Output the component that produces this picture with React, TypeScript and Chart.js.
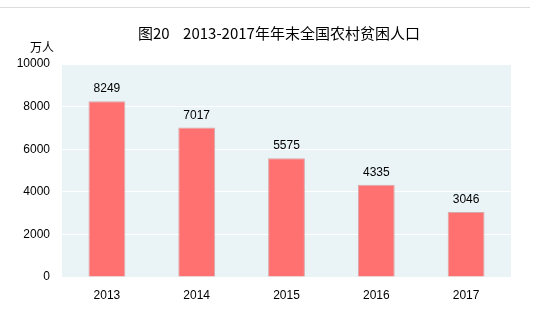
import React, { useEffect, useRef } from "react";
import { Chart, registerables } from "chart.js";

Chart.register(...registerables);

const categories = ["2013", "2014", "2015", "2016", "2017"];
const values = [8249, 7017, 5575, 4335, 3046];
const yTicks = [0, 2000, 4000, 6000, 8000, 10000];
const titleText = "图20    2013-2017年年末全国农村贫困人口";
const unitText = "万人";

const decor = {
  id: "decor",
  beforeDraw(chart: any) {
    const { ctx, chartArea } = chart;
    ctx.save();
    ctx.fillStyle = "#fff";
    ctx.fillRect(0, 0, chart.width, chart.height);
    ctx.fillStyle = "#EAF3F6";
    ctx.fillRect(chartArea.left, chartArea.top, chartArea.right - chartArea.left, chartArea.bottom - chartArea.top);
    ctx.strokeStyle = "#dcdcdc";
    ctx.lineWidth = 1;
    ctx.beginPath();
    ctx.moveTo(0, 7.5);
    ctx.lineTo(530, 7.5);
    ctx.stroke();
    ctx.fillStyle = "#000";
    ctx.font = "15px 'Noto Sans CJK SC', 'Liberation Sans', sans-serif";
    ctx.textAlign = "left";
    ctx.textBaseline = "middle";
    ctx.fillText(titleText, 138, 33);
    ctx.font = "12px 'Noto Sans CJK SC', sans-serif";
    ctx.fillText(unitText, 30, 47);
    ctx.restore();
  },
  afterDatasetsDraw(chart: any) {
    const { ctx } = chart;
    const meta = chart.getDatasetMeta(0);
    ctx.save();
    ctx.fillStyle = "#000";
    ctx.font = "12px 'Liberation Sans', sans-serif";
    ctx.textAlign = "center";
    ctx.textBaseline = "alphabetic";
    meta.data.forEach((el: any, i: number) => {
      ctx.fillText(String(values[i]), el.x, el.y - 9);
    });
    ctx.restore();
  },
};

export default function App() {
  const ref = useRef<HTMLCanvasElement>(null);
  useEffect(() => {
    document.body.style.margin = "0";
    const chart = new Chart(ref.current!, {
      type: "bar",
      data: {
        labels: categories,
        datasets: [
          {
            data: values,
            backgroundColor: "#FF7070",
            borderColor: "rgba(210,150,150,0.8)",
            borderWidth: 1,
            categoryPercentage: 1,
            barPercentage: 0.41,
          },
        ],
      },
      options: {
        responsive: false,
        animation: false,
        layout: { padding: { left: 0, right: 25, top: 64, bottom: 0 } },
        plugins: { legend: { display: false }, tooltip: { enabled: false } },
        scales: {
          x: {
            grid: { display: false },
            border: { display: false },
            ticks: { color: "#000", font: { family: "'Liberation Sans', sans-serif", size: 12 }, padding: 3 },
            afterFit(scale: any) {
              scale.height = 32;
            },
          },
          y: {
            min: 0,
            max: 10000,
            afterBuildTicks(scale: any) {
              scale.ticks = yTicks.map((v) => ({ value: v }));
            },
            grid: { color: "#ffffff", lineWidth: 1, drawTicks: false },
            border: { display: false },
            ticks: {
              color: "#000",
              font: { family: "'Liberation Sans', sans-serif", size: 12 },
              padding: 12,
              callback: (v: any) => String(v),
            },
            afterFit(scale: any) {
              scale.width = 62;
            },
          },
        },
      },
      plugins: [decor],
    });
    return () => chart.destroy();
  }, []);
  return <canvas ref={ref} width={536} height={309} style={{ display: "block" }} />;
}
